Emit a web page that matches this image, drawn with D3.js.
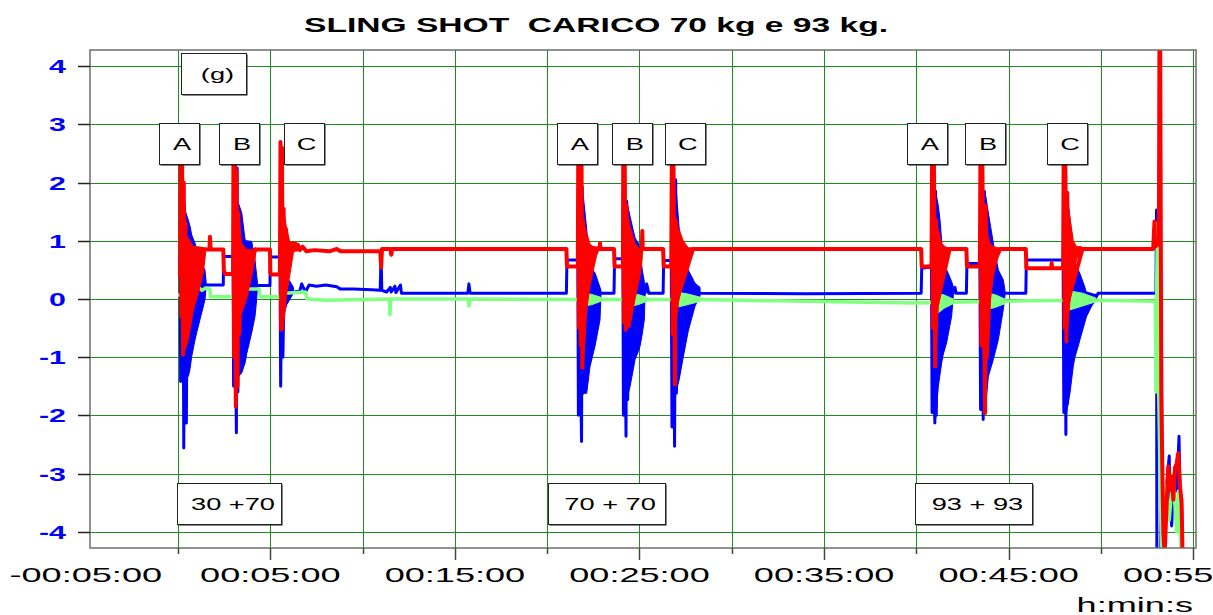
<!DOCTYPE html>
<html>
<head>
<meta charset="utf-8">
<script src="https://d3js.org/d3.v7.min.js"></script>
<style>
  body { margin: 0; background: #fff; }
  svg { display: block; font-family: "Liberation Sans", Arial, sans-serif; }
</style>
</head>
<body>
<div id="chart"></div>
<script>
// sling shot - accelerazioni (g) nel tempo, tre canali
// tempo in minuti, valori in g

const titolo = 'SLING SHOT  CARICO 70 kg e 93 kg.';
const unitaX = 'h:min:s';

const xTickMin = [0, 5, 10, 15, 20, 25, 30, 35, 40, 45, 50, 55];
const xLabelMin = [-5, 5, 15, 25, 35, 45, 55];
const xLabelText = ['-00:05:00', '00:05:00', '00:15:00', '00:25:00', '00:35:00', '00:45:00', '00:55:00'];
const yTicks = [4, 3, 2, 1, 0, -1, -2, -3, -4];

// canale blu: traccia [t, g]
const bluTraccia = [[0.00,0.72],[0.12,0.72],[0.14,-1.42],[0.18,0.6],[0.23,-1.1],[0.27,1.0],[0.31,-2.56],[0.35,1.62],[0.40,-1.5],[0.45,-2.13],[0.50,0.5],[1.52,0.24],[2.45,0.24],[2.47,0.73],[2.98,0.73],[3.01,-1.5],[3.06,0.6],[3.12,-1.0],[3.16,-2.3],[3.20,2.25],[3.24,-1.6],[3.30,0.5],[4.30,0.23],[4.98,0.23],[5.00,0.72],[5.52,0.72],[5.56,-1.5],[5.62,0.6],[5.68,-1.0],[5.75,0.3],[6.07,0.15],[6.30,0.12],[6.60,0.14],[6.70,0.26],[6.90,0.12],[7.10,0.24],[7.50,0.22],[8.00,0.24],[8.60,0.21],[8.80,0.17],[9.50,0.17],[10.50,0.16],[10.95,0.15],[11.00,0.73],[11.04,0.15],[11.30,0.12],[11.50,0.2],[11.55,0.12],[11.75,0.22],[11.80,0.11],[12.05,0.24],[12.10,0.1],[15.70,0.1],[15.76,0.26],[15.82,0.1],[21.04,0.1],[21.07,0.67],[21.66,0.67],[21.69,-2.0],[21.74,0.8],[21.80,-1.0],[21.86,-2.45],[21.90,1.93],[21.94,-1.62],[22.00,0.3],[22.91,0.1],[23.62,0.1],[23.65,0.69],[24.10,0.69],[24.13,-2.0],[24.18,0.9],[24.27,-2.36],[24.31,1.68],[24.36,-1.73],[24.45,0.2],[25.30,0.1],[25.39,0.26],[25.50,0.1],[26.28,0.1],[26.31,0.66],[26.72,0.66],[26.76,-2.2],[26.82,0.9],[26.90,-2.53],[26.96,2.05],[27.00,-1.62],[27.10,0.3],[28.28,0.1],[34.00,0.09],[40.26,0.1],[40.29,0.53],[40.82,0.55],[40.85,-1.95],[40.90,0.9],[40.95,-1.2],[41.00,-2.13],[41.04,1.85],[41.08,-2.0],[41.15,0.3],[42.00,0.1],[42.09,0.2],[42.15,0.1],[42.71,0.1],[42.74,0.61],[43.44,0.61],[43.48,-1.9],[43.55,1.2],[43.62,-2.07],[43.68,1.85],[43.72,-1.96],[43.80,0.3],[44.80,0.1],[45.93,0.1],[45.96,0.67],[47.95,0.67],[47.99,-1.95],[48.05,1.0],[48.10,-2.33],[48.14,1.83],[48.18,-1.8],[48.30,0.2],[49.77,0.05],[49.85,0.1],[52.98,0.1],[53.01,1.53],[53.03,-4.4],[53.24,-4.4],[53.28,-0.82],[53.32,-3.5],[53.38,-4.4],[53.47,-3.8],[53.56,-3.2],[53.70,-2.7],[53.74,-3.5],[53.83,-3.9],[53.92,-3.3],[54.01,-2.9],[54.10,-3.3],[54.23,-2.36],[54.28,-3.3],[54.37,-3.6],[54.42,-4.4]];

// canale blu: oscillazioni fitte [t, min, max]
const bluBande = [
  [[0.29,-1.33,1.62],[0.56,-1.33,1.35],[0.65,-1.2,1.25],[0.74,-0.99,1.1],[0.92,-0.7,0.96],[1.01,-0.58,0.85],[1.19,-0.35,0.67],[1.28,-0.24,0.6],[1.46,-0.01,0.5],[1.52,0.2,0.3]],
  [[3.27,-1.33,1.65],[3.45,-1.27,1.48],[3.63,-1.1,1.02],[3.72,-0.94,1.0],[3.99,-0.58,0.99],[4.17,-0.3,0.67],[4.26,-0.01,0.4],[4.30,0.2,0.3]],
  [[5.70,-0.3,0.5],[5.89,-0.1,0.36],[6.07,0.0,0.3],[6.25,0.1,0.2]],
  [[21.96,-1.62,1.76],[22.14,-1.62,1.2],[22.32,-1.16,0.55],[22.59,-0.81,0.45],[22.86,-0.36,0.2],[22.91,0.05,0.15]],
  [[24.31,-1.73,1.68],[24.49,-1.5,1.42],[24.67,-1.2,1.17],[24.76,-1.04,1.05],[24.94,-0.9,0.96],[25.03,-0.81,0.8],[25.15,-0.6,0.5],[25.26,-0.36,0.3],[25.30,0.05,0.15]],
  [[26.96,-1.62,2.0],[27.14,-1.4,1.25],[27.37,-1.0,0.67],[27.64,-0.55,0.5],[28.01,-0.12,0.27],[28.28,0.05,0.2]],
  [[41.04,-2.08,1.85],[41.19,-1.5,1.6],[41.28,-1.3,1.36],[41.37,-1.1,1.0],[41.46,-0.95,0.67],[41.64,-0.75,0.5],[41.73,-0.6,0.44],[41.91,-0.3,0.3],[42.00,0.05,0.21]],
  [[43.72,-1.96,1.85],[43.90,-1.33,1.48],[44.17,-1.04,0.96],[44.44,-0.7,0.5],[44.71,-0.18,0.33],[44.80,0.05,0.15]],
  [[48.14,-1.95,1.83],[48.32,-1.62,1.4],[48.50,-1.16,0.9],[48.59,-1.0,0.61],[48.77,-0.81,0.5],[48.86,-0.7,0.44],[49.13,-0.4,0.2],[49.22,-0.3,0.1],[49.50,-0.12,0.08],[49.77,0.0,0.08]]
];

// canale rosso
const rossoTraccia = [[0.00,0.41],[0.12,0.41],[0.14,2.4],[0.18,-0.3],[0.22,2.4],[0.27,-0.96],[0.31,2.0],[0.36,-0.8],[0.40,1.3],[0.45,-0.5],[0.50,0.9],[1.50,0.85],[1.70,0.85],[1.73,1.07],[1.77,0.85],[2.45,0.85],[2.48,0.5],[2.55,0.43],[2.98,0.43],[3.00,2.4],[3.04,-1.0],[3.08,2.4],[3.13,-1.85],[3.17,2.2],[3.22,-1.5],[3.27,1.48],[3.32,-0.6],[3.40,0.5],[4.22,0.85],[4.98,0.85],[5.00,0.45],[5.05,0.42],[5.52,0.42],[5.55,2.7],[5.59,-0.53],[5.63,2.6],[5.67,-0.2],[5.72,1.55],[5.76,0.3],[5.85,1.2],[5.95,0.6],[6.07,0.9],[6.12,0.95],[6.18,0.85],[6.24,0.96],[6.30,0.84],[6.36,0.95],[6.42,0.85],[6.50,0.93],[6.60,0.84],[6.75,0.9],[6.95,0.82],[7.40,0.84],[8.20,0.82],[8.60,0.86],[8.80,0.82],[10.96,0.82],[11.00,0.54],[11.05,0.86],[11.50,0.86],[11.55,0.76],[11.60,0.86],[21.04,0.86],[21.07,0.56],[21.66,0.56],[21.68,2.4],[21.72,-0.5],[21.76,2.4],[21.82,-0.8],[21.86,2.4],[21.90,-1.18],[21.94,1.36],[22.00,-0.3],[22.10,0.9],[22.84,0.86],[22.86,0.96],[22.89,0.86],[23.62,0.86],[23.65,0.56],[24.10,0.56],[24.12,2.4],[24.16,-0.4],[24.20,2.4],[24.25,-0.53],[24.29,1.6],[24.40,0.2],[25.13,0.86],[25.15,1.17],[25.18,0.86],[26.28,0.86],[26.31,0.56],[26.72,0.56],[26.75,2.4],[26.80,-0.6],[26.84,2.4],[26.92,-1.47],[26.96,1.36],[27.05,0.0],[27.90,0.86],[40.26,0.86],[40.29,0.56],[40.82,0.56],[40.85,2.4],[40.90,-0.5],[40.95,2.4],[41.02,-1.16],[41.06,1.36],[41.12,-0.1],[41.80,0.86],[42.71,0.86],[42.74,0.56],[43.44,0.56],[43.47,2.4],[43.52,-0.8],[43.57,2.4],[43.72,-1.96],[43.76,1.6],[43.82,-1.0],[44.00,0.5],[44.55,0.86],[45.93,0.86],[45.96,0.53],[47.30,0.53],[47.33,0.62],[47.36,0.53],[47.95,0.53],[47.98,2.4],[48.03,-0.5],[48.07,2.4],[48.13,-0.73],[48.17,1.83],[48.25,0.0],[49.00,0.86],[52.83,0.86],[52.90,1.33],[52.93,0.9],[53.14,0.95],[53.17,4.5],[53.21,4.5],[53.27,-1.67],[53.33,-3.0],[53.38,-4.0],[53.45,-4.4],[53.55,-3.6],[53.65,-2.88],[53.74,-3.28],[53.83,-3.05],[53.92,-3.45],[54.01,-2.9],[54.10,-2.83],[54.19,-2.65],[54.28,-3.2],[54.37,-3.5],[54.42,-4.4]];

const rossoBande = [
  [[0.29,-0.96,1.1],[0.56,-0.7,1.05],[0.83,-0.19,0.9],[1.10,0.1,0.85],[1.37,0.45,0.85],[1.46,0.7,0.88],[1.50,0.82,0.88]],
  [[3.27,-0.41,1.48],[3.45,-0.24,0.96],[3.72,0.0,0.85],[3.99,0.4,0.85],[4.17,0.68,0.88],[4.22,0.82,0.88]],
  [[5.70,-0.53,1.55],[5.89,0.1,1.2],[6.07,0.44,0.96],[6.25,0.8,0.95]],
  [[21.96,-1.18,1.36],[22.14,-0.19,1.13],[22.32,0.22,0.95],[22.50,0.5,0.88],[22.68,0.75,0.88],[22.77,0.82,0.9]],
  [[24.25,-0.53,1.6],[24.49,-0.47,1.25],[24.76,0.0,0.96],[25.03,0.4,0.85],[25.15,0.7,0.88]],
  [[26.96,-0.47,1.36],[27.14,0.0,1.2],[27.37,0.33,1.0],[27.64,0.68,0.88],[27.83,0.8,0.88]],
  [[41.04,-1.16,1.36],[41.19,-0.12,1.2],[41.37,0.28,0.96],[41.55,0.56,0.9],[41.73,0.74,0.88],[41.82,0.82,0.88]],
  [[43.72,-1.96,1.6],[43.81,-1.04,1.2],[43.99,-0.06,0.96],[44.17,0.39,0.9],[44.44,0.74,0.88],[44.53,0.82,0.88]],
  [[48.14,-0.73,1.83],[48.32,-0.06,1.4],[48.50,0.39,1.0],[48.68,0.68,0.9],[48.95,0.82,0.9]]
];

// canale verde
const verdeTraccia = [[0.00,0.07],[0.30,0.07],[0.35,-0.1],[0.45,0.2],[0.55,0.12],[0.70,0.2],[0.90,0.14],[1.10,0.2],[1.30,0.15],[1.50,0.19],[1.73,0.17],[1.76,0.04],[3.20,0.04],[3.30,-0.15],[3.45,0.17],[4.40,0.17],[4.45,0.04],[5.55,0.04],[5.62,-0.12],[5.75,0.1],[6.90,0.12],[7.00,0.0],[8.00,-0.02],[11.45,0.0],[11.48,-0.27],[11.52,0.0],[15.70,0.0],[15.76,-0.12],[15.82,0.0],[21.00,-0.01],[28.30,-0.01],[34.00,-0.04],[40.00,-0.07],[42.50,-0.05],[46.00,-0.03],[50.00,-0.02],[52.95,-0.04],[52.98,-1.6],[53.02,0.2],[53.06,1.3],[53.10,-1.0],[53.20,-3.0],[53.30,-4.4],[53.50,-3.2],[53.70,-3.8],[53.90,-3.0],[54.10,-4.0],[54.20,-3.3],[54.35,-4.4]];

const verdeBande = [
  [[21.88,-0.1,0.08],[22.00,-0.12,0.1],[22.40,-0.1,0.08],[22.90,-0.04,0.03]],
  [[24.25,-0.15,0.12],[24.40,-0.14,0.11],[24.90,-0.1,0.08],[25.40,-0.04,0.03]],
  [[26.90,-0.15,0.13],[27.05,-0.14,0.12],[27.70,-0.09,0.08],[28.30,-0.04,0.03]],
  [[40.95,-0.3,0.1],[41.10,-0.26,0.1],[41.50,-0.16,0.07],[42.00,-0.08,0.0]],
  [[43.65,-0.2,0.12],[43.80,-0.19,0.11],[44.30,-0.14,0.07],[44.80,-0.08,0.0]],
  [[48.15,-0.2,0.15],[48.30,-0.19,0.14],[49.00,-0.12,0.1],[49.70,-0.05,0.02]]
];

// riquadri di testo (posizione del centro in minuti e g)
const boxTesti = ['(g)', 'A', 'B', 'C', 'A', 'B', 'C', 'A', 'B', 'C', '30 +70', '70 + 70', '93 + 93'];
const boxT = [1.92, 0.05, 3.30, 6.80, 21.61, 24.59, 27.46, 40.57, 43.72, 48.16, 2.76, 23.19, 43.09];
const boxV = [3.88, 2.67, 2.67, 2.67, 2.67, 2.67, 2.67, 2.67, 2.67, 2.67, -3.51, -3.51, -3.51];

// dimensioni
const W = 1213, H = 615;
const plot = { left: 90, right: 1196, top: 50, bottom: 548 };

const svg = d3.select('#chart').append('svg')
    .attr('width', W)
    .attr('height', H);

const x = d3.scaleLinear().domain([-4.77, 55.15]).range([plot.left, plot.right]);
const y = d3.scaleLinear().domain([-4.28, 4.28]).range([plot.bottom, plot.top]);

// testo allargato in orizzontale come nell'originale (spazi conservati)
function testoLargo(g, px, py, str, sx) {
    return g.append('text')
        .attr('transform', `translate(${px},${py}) scale(${sx},1)`)
        .text(str.replace(/ /g, '\u00a0'));
}

// griglia verde
const griglia = svg.append('g').attr('stroke', '#1e8c1e').attr('stroke-width', 1);
griglia.selectAll('.gy').data(yTicks).join('line')
    .attr('x1', plot.left).attr('x2', plot.right)
    .attr('y1', d => Math.round(y(d)) + 0.5).attr('y2', d => Math.round(y(d)) + 0.5);
griglia.selectAll('.gx').data(xTickMin).join('line')
    .attr('y1', plot.top).attr('y2', plot.bottom)
    .attr('x1', d => Math.round(x(d)) + 0.5).attr('x2', d => Math.round(x(d)) + 0.5);

// clip per i segnali
svg.append('clipPath').attr('id', 'clip')
    .append('rect')
    .attr('x', plot.left).attr('y', plot.top)
    .attr('width', plot.right - plot.left).attr('height', plot.bottom - plot.top);

const segnali = svg.append('g').attr('clip-path', 'url(#clip)');

const linea = d3.line().x(d => x(d[0])).y(d => y(d[1]));
const area = d3.area().x(d => x(d[0])).y0(d => y(d[1])).y1(d => y(d[2]));

function canale(traccia, bande, colore, spessore) {
    const g = segnali.append('g');
    g.selectAll('path.banda').data(bande).join('path')
        .attr('class', 'banda')
        .attr('d', area)
        .attr('fill', colore)
        .attr('stroke', colore)
        .attr('stroke-width', 1);
    g.append('path')
        .datum(traccia)
        .attr('d', linea)
        .attr('fill', 'none')
        .attr('stroke', colore)
        .attr('stroke-width', spessore)
        .attr('stroke-linejoin', 'round');
}

canale(bluTraccia, bluBande, '#0000ff', 3);
canale(verdeTraccia, verdeBande, '#80ff80', 3.5);
canale(rossoTraccia, rossoBande, '#ff0000', 4);

// cornice
svg.append('rect')
    .attr('x', plot.left).attr('y', plot.top)
    .attr('width', plot.right - plot.left).attr('height', plot.bottom - plot.top)
    .attr('fill', 'none').attr('stroke', '#6e6e6e').attr('stroke-width', 1.5);

// tacche asse y
svg.append('g').selectAll('line').data(yTicks).join('line')
    .attr('x1', plot.left - 12).attr('x2', plot.left)
    .attr('y1', d => Math.round(y(d)) + 0.5).attr('y2', d => Math.round(y(d)) + 0.5)
    .attr('stroke', '#222').attr('stroke-width', 1.5);

// tacche asse x (lunghe dove c'e' l'etichetta)
svg.append('g').selectAll('line').data(xTickMin).join('line')
    .attr('x1', d => Math.round(x(d)) + 0.5).attr('x2', d => Math.round(x(d)) + 0.5)
    .attr('y1', plot.bottom)
    .attr('y2', d => plot.bottom + (xLabelMin.includes(d) ? 12 : 6))
    .attr('stroke', '#444').attr('stroke-width', 1.5);

// etichette asse y
const gy = svg.append('g')
    .attr('fill', '#0000ff')
    .attr('font-size', 19)
    .attr('font-weight', 'bold')
    .attr('text-anchor', 'end');
yTicks.forEach(v => testoLargo(gy, 66, y(v) + 7, String(v), 1.6));

// etichette asse x
const gx = svg.append('g')
    .attr('fill', '#000')
    .attr('font-size', 21)
    .attr('text-anchor', 'middle');
xLabelMin.forEach((t, i) => testoLargo(gx, x(t), 582, xLabelText[i], 1.72));

testoLargo(svg.append('g').attr('font-size', 21).attr('text-anchor', 'end'), 1193, 612, unitaX, 1.72);

// titolo
testoLargo(svg.append('g')
        .attr('font-size', 21)
        .attr('font-weight', 'bold')
        .attr('text-anchor', 'middle'),
    596, 32, titolo, 1.6);

// riquadri
const gb = svg.append('g');
boxTesti.forEach((s, i) => {
    const w = s.length === 1 ? 40 : (s === '(g)' ? 65 : (s === '30 +70' ? 104 : 117));
    const h = 41;
    const cx = x(boxT[i]), cy = y(boxV[i]);
    const bx = Math.round(cx - w / 2), by = Math.round(cy - h / 2);
    gb.append('rect')
        .attr('x', bx + 1.5).attr('y', by + 1.5)
        .attr('width', w).attr('height', h)
        .attr('fill', '#111');
    gb.append('rect')
        .attr('x', bx + 0.5).attr('y', by + 0.5)
        .attr('width', w).attr('height', h)
        .attr('fill', '#fff').attr('stroke', '#222').attr('stroke-width', 1);
    testoLargo(gb, cx + (s.length === 1 ? 3 : 4), cy + 6.5, s, 1.6)
        .attr('font-size', 17)
        .attr('text-anchor', 'middle');
});
</script>
</body>
</html>
